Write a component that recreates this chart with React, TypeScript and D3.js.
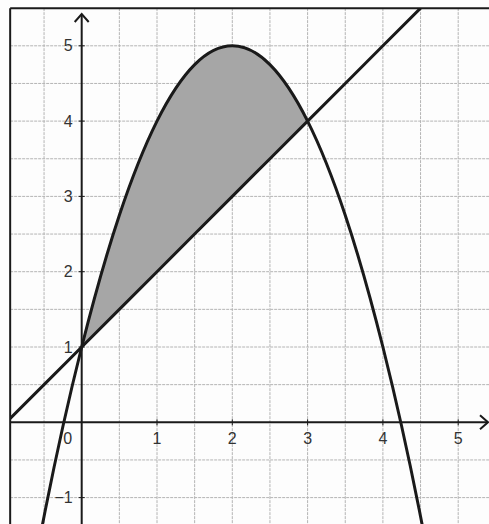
import React from 'react';
import * as d3 from 'd3';

// sample points (parabola and straight line)
const X_VALUES = [-1, -0.5, 0, 0.5, 1, 1.5, 2, 2.5, 3, 3.5, 4, 4.5, 5];
const PARABOLA_VALUES = [-4, -1.25, 1, 2.75, 4, 4.75, 5, 4.75, 4, 2.75, 1, -1.25, -4];
const LINE_VALUES = [0, 0.5, 1, 1.5, 2, 2.5, 3, 3.5, 4, 4.5, 5, 5.5, 6];
const SHADE_RANGE = [0, 3];
const X_TICKS = [1, 2, 3, 4, 5];
const Y_TICKS = [-1, 1, 2, 3, 4, 5];

const width = 489;
const height = 524;
const unit = 75.3;
const originX = 81.7;
const originY = 422.3;

export default function App() {
    const x = d3.scaleLinear().domain([0, 1]).range([originX, originX + unit]);
    const y = d3.scaleLinear().domain([0, 1]).range([originY, originY - unit]);

    const xMin = -0.95;
    const yMax = 5.5;

    const pts = X_VALUES.map((v, i) => ({ x: v, p: PARABOLA_VALUES[i], l: LINE_VALUES[i] }));

    const parabola = d3.line<any>().x(d => x(d.x)).y(d => y(d.p)).curve(d3.curveNatural);
    const straight = d3.line<any>().x(d => x(d.x)).y(d => y(d.l));
    const shade = d3.area<any>().x(d => x(d.x)).y0(d => y(d.l)).y1(d => y(d.p)).curve(d3.curveNatural);

    const gridX = d3.range(-1, 6, 0.5).filter(v => v !== 0 && v > xMin);
    const gridY = d3.range(-1.5, 5.5, 0.5).filter(v => v !== 0);

    const left = x(xMin);
    const top = y(yMax);
    const font = 'Liberation Sans, Arial, sans-serif';

    return (
        <svg width={width} height={height} style={{ position: 'absolute', left: 0, top: 0, background: '#fdfdfd' }}>
            <defs>
                <clipPath id="plot">
                    <rect x={left} y={top} width={width - left} height={height - top} />
                </clipPath>
                <clipPath id="shade">
                    <rect x={x(SHADE_RANGE[0])} y={top} width={x(SHADE_RANGE[1]) - x(SHADE_RANGE[0])} height={height - top} />
                </clipPath>
            </defs>

            {/* grid */}
            <g stroke="#b4b4b4" strokeWidth={1} strokeDasharray="3,1">
                {gridX.map(v => (
                    <line key={'gx' + v} x1={x(v)} x2={x(v)} y1={top} y2={height} />
                ))}
                {gridY.map(v => (
                    <line key={'gy' + v} x1={left} x2={width} y1={y(v)} y2={y(v)} />
                ))}
            </g>

            {/* shaded region */}
            <g clipPath="url(#shade)">
                <path d={shade(pts) || ''} fill="#a6a6a6" stroke="none" />
            </g>

            {/* axes */}
            <g stroke="#1a1a1a" strokeWidth={2} fill="none">
                <line x1={left} x2={width - 2} y1={y(0)} y2={y(0)} />
                <line x1={x(0)} x2={x(0)} y1={height} y2={14} />
                <polyline points={`${x(0) - 7},${22} ${x(0)},${14} ${x(0) + 7},${22}`} />
                <polyline points={`${width - 9},${y(0) - 7} ${width - 1},${y(0)} ${width - 9},${y(0) + 7}`} />
                {X_TICKS.map(v => (
                    <line key={'tx' + v} x1={x(v)} x2={x(v)} y1={y(0) - 3} y2={y(0) + 3} strokeWidth={1} />
                ))}
                {Y_TICKS.map(v => (
                    <line key={'ty' + v} x1={x(0) - 3} x2={x(0) + 3} y1={y(v)} y2={y(v)} strokeWidth={1} />
                ))}
            </g>

            {/* curves */}
            <g clipPath="url(#plot)" fill="none" stroke="#1a1a1a" strokeWidth={3}>
                <path d={parabola(pts) || ''} />
                <path d={straight(pts) || ''} />
            </g>

            {/* frame */}
            <g stroke="#1a1a1a" strokeWidth={2}>
                <line x1={left} x2={left} y1={top} y2={height} />
                <line x1={left} x2={width} y1={top} y2={top} />
            </g>

            {/* labels */}
            <g fontFamily={font} fontSize={16} fill="#333">
                {X_TICKS.map(v => (
                    <text key={'lx' + v} x={x(v)} y={y(0) + 22} textAnchor="middle">{v}</text>
                ))}
                <text x={x(0) - 14} y={y(0) + 22} textAnchor="middle">0</text>
                {Y_TICKS.map(v => (
                    <text key={'ly' + v} x={x(0) - 9} y={y(v)} dy="0.35em" textAnchor="end">{v < 0 ? '\u2212' + Math.abs(v) : v}</text>
                ))}
            </g>
        </svg>
    );
}
